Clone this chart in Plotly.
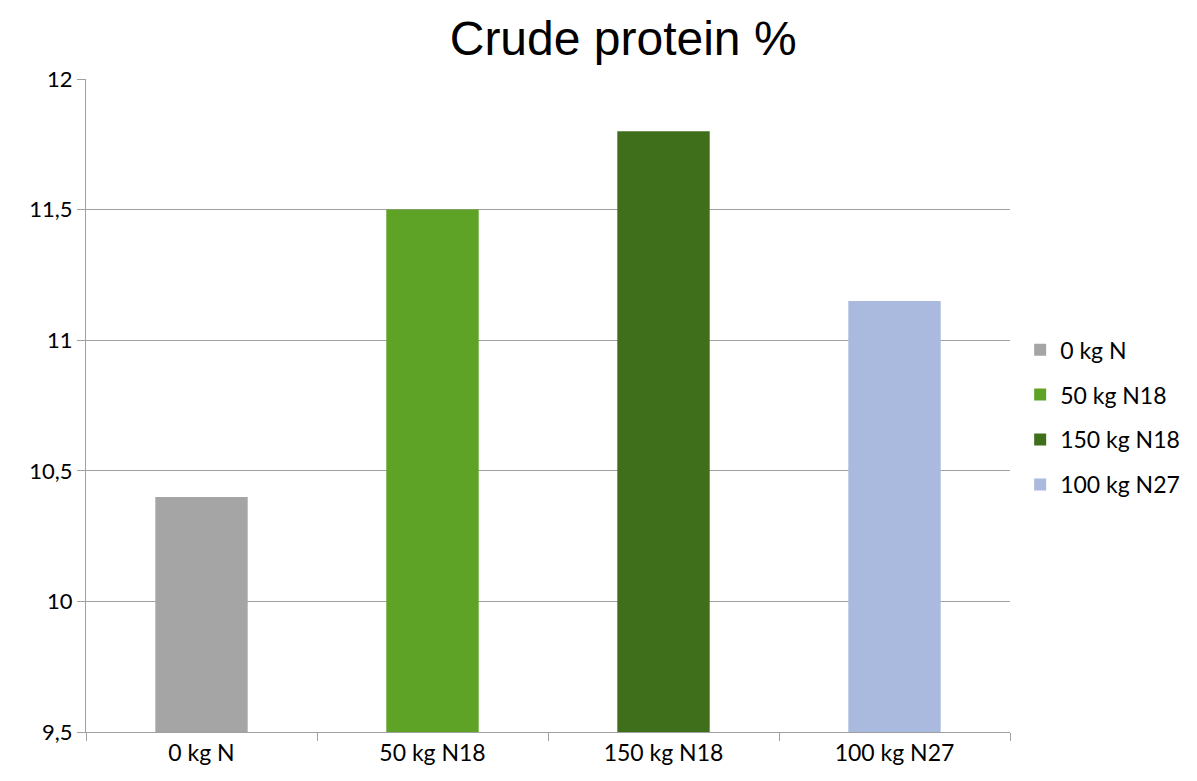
import plotly.graph_objects as go

categories = ["0 kg N", "50 kg N18", "150 kg N18", "100 kg N27"]
crude_protein = [10.4, 11.5, 11.8, 11.15]
bar_colors = ["#A5A5A5", "#5EA226", "#406F1C", "#AABADE"]
y_ticks = [9.5, 10, 10.5, 11, 11.5, 12]
y_min = 9.5

fig = go.Figure()
for cat, val, col in zip(categories, crude_protein, bar_colors):
    fig.add_trace(go.Bar(
        x=[cat], y=[val - y_min], base=y_min,
        name=cat, legendgroup=cat,
        marker=dict(color=col, line=dict(width=0)),
        width=0.4,
    ))

# page body has an 8px margin, so everything is shifted by 8px
fig.update_layout(
    barmode="overlay",
    width=1189, height=773,
    plot_bgcolor="white", paper_bgcolor="white",
    font=dict(family="Lato, Open Sans, sans-serif", size=23, color="black"),
    title=dict(
        text="Crude protein %",
        font=dict(family="Liberation Sans, Arial", size=48, color="black"),
        x=(622 - 86) / 922, xref="paper", xanchor="center",
        y=1 - 30 / 773, yanchor="middle",
    ),
    margin=dict(l=78, r=181, t=71, b=49),
    xaxis=dict(
        categoryorder="array", categoryarray=categories,
        showline=True, linecolor="#A0A0A0", linewidth=1,
        ticks="outside", tickson="boundaries", ticklen=8, tickcolor="#A0A0A0",
        tickfont=dict(size=23), showgrid=False,
    ),
    yaxis=dict(
        range=[y_min, 12], tickvals=y_ticks,
        ticktext=[str(v).replace(".", ",") if v % 1 else str(int(v)) for v in y_ticks],
        showline=True, linecolor="#A0A0A0", linewidth=1,
        ticks="outside", ticklen=8, tickcolor="#A0A0A0",
        showgrid=True, gridcolor="#A0A0A0", gridwidth=1,
        zeroline=False, tickfont=dict(size=22),
    ),
    legend=dict(
        x=1.011, xanchor="left", y=0.482, yanchor="middle",
        font=dict(size=23), tracegroupgap=12, traceorder="grouped",
        itemwidth=30,
    ),
)

fig.write_html("out.html")
